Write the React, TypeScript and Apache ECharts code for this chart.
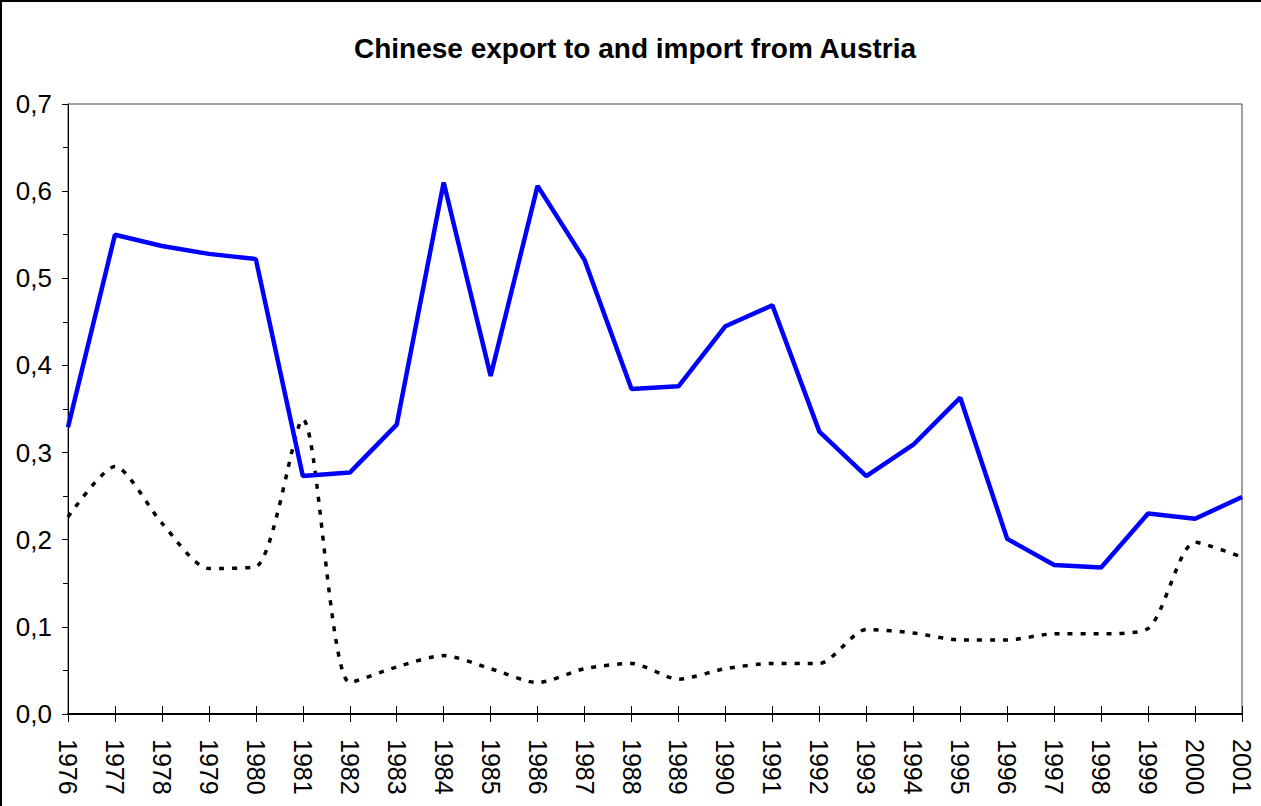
import React, { useEffect, useRef } from "react";
import * as echarts from "echarts";

const years = [
  "1976", "1977", "1978", "1979", "1980", "1981", "1982", "1983", "1984", "1985",
  "1986", "1987", "1988", "1989", "1990", "1991", "1992", "1993", "1994", "1995",
  "1996", "1997", "1998", "1999", "2000", "2001",
];

const exportShare = [
  0.329, 0.550, 0.537, 0.528, 0.522, 0.273, 0.277, 0.332, 0.610, 0.388,
  0.606, 0.521, 0.373, 0.376, 0.445, 0.469, 0.324, 0.273, 0.309, 0.363,
  0.201, 0.171, 0.168, 0.230, 0.224, 0.249,
];

const importShare = [
  0.226, 0.284, 0.219, 0.167, 0.169, 0.338, 0.036, 0.054, 0.067, 0.052,
  0.036, 0.052, 0.058, 0.040, 0.052, 0.058, 0.058, 0.097, 0.093, 0.085,
  0.085, 0.092, 0.092, 0.098, 0.197, 0.180,
];

const titleText = "Chinese export to and import from Austria";

const NARROW = "'Liberation Sans Narrow', 'Arial Narrow', 'Liberation Sans', Arial, sans-serif";
const SANS = "'Liberation Sans', Arial, sans-serif";

export default function App() {
  const ref = useRef<HTMLDivElement>(null);

  useEffect(() => {
    document.body.style.margin = "0";
    const chart = echarts.init(ref.current!, null, { renderer: "svg" });
    chart.setOption({
      animation: false,
      backgroundColor: "#ffffff",
      title: {
        text: titleText,
        left: 630,
        top: 29,
        textAlign: "center",
        textStyle: {
          fontFamily: NARROW,
          fontWeight: "bold",
          fontSize: 28,
          color: "#000",
        },
      },
      graphic: [
        { type: "line", shape: { x1: 0, y1: 1, x2: 1261, y2: 1 }, style: { stroke: "#000", lineWidth: 2 } },
        { type: "line", shape: { x1: 1, y1: 0, x2: 1, y2: 806 }, style: { stroke: "#000", lineWidth: 2 } },
      ],
      grid: {
        left: 68,
        right: 19,
        top: 104,
        bottom: 92,
        show: true,
        borderColor: "#444",
        borderWidth: 1,
        backgroundColor: "transparent",
      },
      xAxis: [
        {
          type: "category",
          data: years,
          boundaryGap: false,
          axisLine: { show: true, lineStyle: { color: "#000", width: 2 } },
          axisTick: { show: true, inside: false, length: 8, alignWithLabel: true, lineStyle: { color: "#000", width: 1 } },
          axisLabel: {
            rotate: -90,
            margin: 25,
            fontFamily: SANS,
            fontSize: 25,
            color: "#000",
            interval: 0,
          },
          splitLine: { show: false },
        },
        {
          type: "category",
          data: years,
          boundaryGap: false,
          position: "bottom",
          axisLine: { show: false },
          axisTick: { show: true, inside: true, length: 8, lineStyle: { color: "#000", width: 1 } },
          axisLabel: { show: false },
          splitLine: { show: false },
        },
      ],
      yAxis: {
        type: "value",
        min: 0,
        max: 0.7,
        interval: 0.1,
        axisLine: { show: true, lineStyle: { color: "#000", width: 1 } },
        axisTick: { show: true, length: 6, lineStyle: { color: "#000" } },
        minorTick: { show: true, splitNumber: 2, length: 5, lineStyle: { color: "#000" } },
        splitLine: { show: false },
        axisLabel: {
          margin: 16,
          fontFamily: NARROW,
          fontSize: 26,
          color: "#000",
          formatter: (v: number) => v.toFixed(1).replace(".", ","),
        },
      },
      series: [
        {
          name: "Export",
          type: "line",
          data: exportShare,
          showSymbol: false,
          symbol: "none",
          lineStyle: { color: "#0000ff", width: 4.5 },
          z: 3,
        },
        {
          name: "Import",
          type: "line",
          data: importShare,
          showSymbol: false,
          symbol: "none",
          smooth: 0.25,
          lineStyle: { color: "#000", width: 3.5, type: [5, 8], cap: "butt" },
          z: 2,
        },
      ],
    });
    return () => chart.dispose();
  }, []);

  return <div ref={ref} style={{ width: 1261, height: 806 }} />;
}
